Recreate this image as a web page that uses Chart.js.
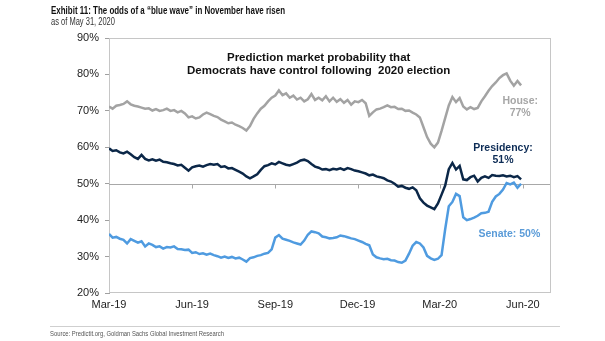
<!DOCTYPE html>
<html><head><meta charset="utf-8">
<script src="https://cdn.jsdelivr.net/npm/chart.js@4.4.1/dist/chart.umd.min.js"></script>
<style>
html,body{margin:0;padding:0;background:#fff;}
#wrap{position:relative;width:605px;height:341px;overflow:hidden;background:#fff;}
#c{position:absolute;left:0;top:0;}
.t{position:absolute;white-space:nowrap;transform-origin:0 50%;font-family:"Liberation Sans Narrow","Arial Narrow","Liberation Sans",Arial,sans-serif;}
#h1{left:51px;top:4px;font-size:11px;font-weight:bold;color:#111;line-height:12px;}
#h2{left:51px;top:16px;font-size:10px;color:#333;line-height:12px;}
#src{left:50px;top:329px;font-size:8px;color:#555;line-height:10px;}
#rule{position:absolute;left:50px;top:326px;width:510px;height:1px;background:#cfcfcf;}
</style></head>
<body><div id="wrap"><canvas id="c" width="605" height="341"></canvas>
<div class="t" id="h1">Exhibit 11: The odds of a “blue wave” in November have risen</div>
<div class="t" id="h2">as of May 31, 2020</div>
<div id="rule"></div>
<div class="t" id="src">Source: Predictit.org, Goldman Sachs Global Investment Research</div>
</div>
<script>
// ---- data ----
const START = '2019-03-01';
const STEP_DAYS = 4;
const house = [71.2,70.6,71.4,71.6,71.9,72.6,71.8,71.4,71.2,70.9,
70.6,70.7,70.1,70.5,70.0,70.2,70.6,70.0,70.2,69.6,
70.0,69.3,68.2,68.5,67.9,68.2,69.0,69.5,69.1,68.6,
68.3,67.6,67.1,66.6,66.8,66.2,65.8,65.3,64.6,65.8,
67.8,69.3,70.6,71.4,72.6,73.6,74.2,75.6,74.3,74.8,
73.6,74.2,73.1,73.6,72.6,73.2,74.6,73.0,73.6,72.9,
74.0,72.6,73.6,72.5,73.2,72.2,73.0,71.7,72.6,72.4,
73.0,72.1,68.6,69.6,70.4,70.6,71.0,71.5,71.0,71.1,
70.5,70.6,70.0,70.1,69.5,69.0,68.2,65.5,62.8,61.0,
60.0,61.3,64.5,68.0,71.5,73.8,72.4,73.5,71.2,70.4,
71.0,70.5,70.8,72.6,74.0,75.5,76.8,77.8,79.0,79.8,
80.3,78.3,76.9,78.2,77.0];
const presidency = [59.7,59.0,59.2,58.6,58.3,58.8,58.1,57.3,56.8,57.9,
56.8,56.4,56.7,56.3,56.6,56.0,55.9,55.6,55.4,55.0,
55.2,54.4,53.6,54.5,54.8,55.0,54.7,55.1,55.4,55.2,
55.4,54.6,54.8,54.2,54.3,53.8,53.3,52.8,52.0,51.5,
52.0,52.6,53.8,54.8,55.1,55.6,55.3,56.0,55.6,55.2,
55.0,55.4,55.8,56.4,56.6,56.2,55.4,54.7,54.4,53.9,
54.0,53.7,54.1,53.9,54.2,53.8,54.3,54.0,53.6,53.4,
53.1,52.8,52.3,52.5,52.0,51.8,51.5,50.9,50.6,50.0,
49.2,49.4,48.9,48.6,49.0,48.2,46.0,44.8,44.0,43.5,
43.0,44.6,47.0,49.5,54.0,55.7,53.9,54.9,51.2,51.0,
51.8,52.2,50.6,51.6,52.0,51.6,52.4,52.2,52.1,52.3,
52.0,52.2,51.8,52.1,51.2];
const senate = [36.2,35.2,35.4,34.9,34.6,33.6,34.8,34.3,33.8,34.2,
32.8,33.6,33.2,32.6,32.8,32.2,32.6,32.5,32.8,32.1,
32.0,31.8,31.9,31.0,31.2,30.7,30.9,30.5,30.8,30.4,
30.1,29.7,30.0,29.6,29.9,29.5,29.7,29.2,28.6,29.6,
29.8,30.2,30.4,30.8,31.0,32.0,35.2,35.9,34.9,34.6,
34.3,33.9,33.6,33.3,34.4,36.0,36.9,36.7,36.4,35.5,
35.3,35.0,35.1,35.3,35.8,35.6,35.3,35.0,34.8,34.4,
34.0,33.5,33.1,30.6,29.8,29.5,29.3,29.4,29.0,28.9,
28.5,28.3,28.9,30.8,33.0,34.0,33.6,32.5,30.2,29.5,
29.1,29.4,30.4,37.5,43.8,45.0,47.2,46.6,40.8,40.0,
40.3,40.7,41.2,41.9,42.0,42.3,45.0,46.5,47.2,48.4,
50.2,49.8,50.3,48.9,50.0];
const tickLabels = ['Mar-19','Jun-19','Sep-19','Dec-19','Mar-20','Jun-20'];
const tickDates = ['2019-03-01','2019-06-01','2019-09-01','2019-12-01','2020-03-01','2020-06-01'];
const AXIS_END = '2020-07-01';
const Y_MIN = 20, Y_MAX = 90, Y_STEP = 10;
const seriesNames = ['House', 'Presidency', 'Senate'];

// ---- helpers ----
const dayOf = d => (Date.parse(d) - Date.parse(START)) / 86400000;
const toPts = arr => arr.map((v, i) => ({x: i * STEP_DAYS, y: v}));
const FONT = '"Liberation Sans", Arial, sans-serif';

const notes = [
  {lines: ['House:', '77%'], color: '#a6a6a6', x: 455, y: [72.7, 69.4]},
  {lines: ['Presidency:', '51%'], color: '#0d2c56', x: 436, y: [59.8, 56.5]},
  {lines: ['Senate: 50%'], color: '#5a9bd8', x: 443, y: [36.2]}
];

const framePlugin = {
  id: 'frame',
  beforeDatasetsDraw(chart) {
    const {ctx, chartArea: a, scales: {x, y}} = chart;
    ctx.save();
    ctx.lineWidth = 1;
    ctx.strokeStyle = '#c6c6c6';
    ctx.strokeRect(Math.round(a.left) + 0.5, Math.round(a.top) + 0.5, Math.round(a.right - a.left), Math.round(a.bottom - a.top) - 1);
    const y50 = Math.round(y.getPixelForValue(50)) + 0.5;
    ctx.strokeStyle = '#a8a8a8';
    ctx.beginPath();
    ctx.moveTo(a.left, y50); ctx.lineTo(a.right, y50);
    x.ticks.forEach(t => {
      const px = Math.round(x.getPixelForValue(t.value)) + 0.5;
      if (px > a.left + 2) { ctx.moveTo(px, y50); ctx.lineTo(px, y50 + 4); }
    });
    ctx.stroke();
    ctx.restore();
  },
  afterDatasetsDraw(chart) {
    const {ctx, scales: {x, y}} = chart;
    ctx.save();
    ctx.textAlign = 'center';
    ctx.textBaseline = 'middle';
    // inner title
    ctx.fillStyle = '#111';
    ctx.font = 'bold 11.5px ' + FONT;
    ctx.fillText('Prediction market probability that', x.getPixelForValue(232), y.getPixelForValue(84.6));
    ctx.fillText('Democrats have control following  2020 election', x.getPixelForValue(232), y.getPixelForValue(81.0));
    ctx.font = 'bold 10.5px ' + FONT;
    notes.forEach(n => {
      ctx.fillStyle = n.color;
      n.lines.forEach((s, i) => ctx.fillText(s, x.getPixelForValue(n.x), y.getPixelForValue(n.y[i])));
    });
    ctx.restore();
  }
};

new Chart(document.getElementById('c'), {
  type: 'line',
  data: {
    datasets: [
      {label: seriesNames[2], data: toPts(senate), borderColor: '#4f9be0', borderWidth: 2.5, pointRadius: 0, tension: 0, order: 0},
      {label: seriesNames[1], data: toPts(presidency), borderColor: '#0b2748', borderWidth: 2.5, pointRadius: 0, tension: 0, order: 1},
      {label: seriesNames[0], data: toPts(house), borderColor: '#a3a3a3', borderWidth: 2.5, pointRadius: 0, tension: 0, order: 2}
    ]
  },
  options: {
    responsive: false,
    animation: false,
    devicePixelRatio: 1,
    layout: {padding: {left: 0, right: 55, top: 38, bottom: 28}},
    plugins: {legend: {display: false}, tooltip: {enabled: false}, title: {display: false}},
    scales: {
      x: {
        type: 'linear',
        min: 0,
        max: dayOf(AXIS_END),
        afterBuildTicks: s => { s.ticks = tickDates.map(d => ({value: dayOf(d)})); },
        afterFit: s => { s.height = 20; },
        ticks: {autoSkip: false, maxRotation: 0, minRotation: 0, padding: 5, color: '#222',
          font: {size: 11, family: FONT},
          callback: (v, i) => tickLabels[i]},
        grid: {display: false, drawTicks: false},
        border: {display: false}
      },
      y: {
        min: Y_MIN, max: Y_MAX,
        afterFit: s => { s.width = 109; },
        ticks: {stepSize: Y_STEP, padding: 6, color: '#222', font: {size: 11, family: FONT},
          callback: v => v + '%'},
        grid: {drawOnChartArea: false, drawTicks: true, tickLength: 4, color: '#a0a0a0'},
        border: {display: true, color: '#a0a0a0', width: 1}
      }
    }
  },
  plugins: [framePlugin]
});

// fit condensed header/footer text widths
[['h1', 234], ['h2', 64], ['src', 174]].forEach(([id, w]) => {
  const el = document.getElementById(id);
  const cur = el.getBoundingClientRect().width;
  if (cur > 0) el.style.transform = 'scaleX(' + (w / cur) + ')';
});
</script>
</body></html>
